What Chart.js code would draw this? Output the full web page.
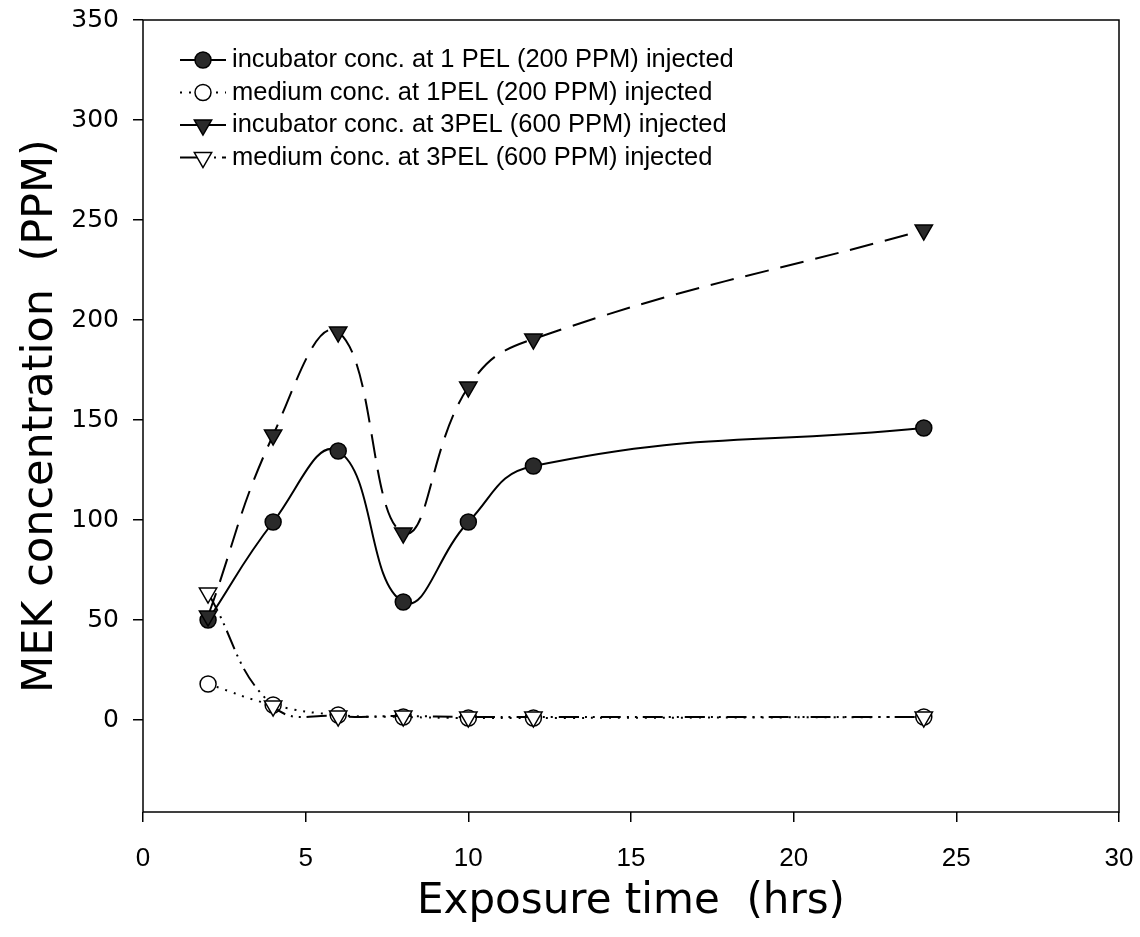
<!DOCTYPE html>
<html>
<head>
<meta charset="utf-8">
<script src="https://cdn.jsdelivr.net/npm/chart.js@4"></script>
<style>
  html, body { margin: 0; padding: 0; background: #fff; }
  #chart { display: block; }
</style>
</head>
<body>
<canvas id="chart" width="1140" height="937"></canvas>
<script>
// data
const hours = [2, 4, 6, 8, 10, 12, 24];
const incubator1PEL = [50, 99, 134.5, 59, 99, 127, 146];
const medium1PEL = [18, 7.5, 2.5, 1.5, 1, 1, 1.5];
const incubator3PEL = [52, 142.5, 194, 93.5, 166.5, 190.5, 245];
const medium3PEL = [63.5, 7, 2, 2, 1.5, 1.5, 1.5];

const seriesNames = [
  'incubator conc. at 1 PEL (200 PPM) injected',
  'medium conc. at 1PEL (200 PPM) injected',
  'incubator conc. at 3PEL (600 PPM) injected',
  'medium \u010Bonc. at 3PEL (600 PPM) injected'
];
const xTicks = [0, 5, 10, 15, 20, 25, 30];
const yTicks = [0, 50, 100, 150, 200, 250, 300, 350];

const toPoints = (ys) => hours.map((h, i) => ({ x: h, y: ys[i] }));

function makeSet(label, ys, opts) {
  return Object.assign({
    label: label,
    data: toPoints(ys),
    borderColor: '#000',
    borderWidth: 2,
    pointBorderColor: '#000',
    pointBorderWidth: 1.5,
    tension: 0.45,
    fill: false
  }, opts);
}

const datasets = [
  makeSet(seriesNames[0], incubator1PEL, {
    pointStyle: 'circle', pointRadius: 8, pointBackgroundColor: '#2a2a2a', borderDash: [], order: 2
  }),
  makeSet(seriesNames[1], medium1PEL, {
    pointStyle: 'circle', pointRadius: 8, pointBackgroundColor: '#fff', borderDash: [2, 7], order: 4
  }),
  makeSet(seriesNames[2], incubator3PEL, {
    pointStyle: 'triangle', pointRotation: 180, pointRadius: 10, pointBackgroundColor: '#2a2a2a',
    borderDash: [24, 12], order: 1
  }),
  makeSet(seriesNames[3], medium3PEL, {
    pointStyle: 'triangle', pointRotation: 180, pointRadius: 10, pointBackgroundColor: '#fff',
    borderDash: [20, 6, 2, 6, 2, 6], order: 3
  })
];

// box round the plot + legend with line and marker inside the plot
const framePlugin = {
  id: 'frame',
  afterDraw(chart) {
    const ctx = chart.ctx;
    const a = chart.chartArea;
    ctx.save();
    ctx.strokeStyle = '#000';
    ctx.lineWidth = 1.5;
    ctx.setLineDash([]);
    ctx.strokeRect(a.left, a.top, a.right - a.left, a.bottom - a.top);

    ctx.font = '25.5px "Liberation Sans", Arial, sans-serif';
    ctx.textBaseline = 'middle';
    ctx.textAlign = 'left';
    chart.data.datasets.forEach((ds, i) => {
      const y = 60 + i * 32.5;
      const x0 = 180, x1 = 226, xm = 203;
      ctx.strokeStyle = '#000';
      ctx.lineWidth = 2;
      ctx.setLineDash(i === 2 ? [] : ds.borderDash);
      ctx.beginPath();
      ctx.moveTo(x0, y);
      ctx.lineTo(x1, y);
      ctx.stroke();
      ctx.setLineDash([]);
      ctx.fillStyle = ds.pointBackgroundColor;
      ctx.lineWidth = 1.5;
      Chart.helpers.drawPoint(ctx, {
        pointStyle: ds.pointStyle,
        rotation: ds.pointRotation || 0,
        radius: ds.pointRadius,
        borderWidth: 1.5
      }, xm, y);
      ctx.fillStyle = '#000';
      ctx.fillText(ds.label, 232, y);
    });
    ctx.restore();
  }
};

new Chart(document.getElementById('chart'), {
  type: 'line',
  data: { datasets: datasets },
  options: {
    responsive: false,
    animation: false,
    devicePixelRatio: 1,
    layout: { padding: { top: 20, right: 21, left: 0, bottom: 0 } },
    plugins: {
      legend: { display: false },
      tooltip: { enabled: false }
    },
    scales: {
      x: {
        type: 'linear',
        min: 0,
        max: 30,
        afterBuildTicks: (s) => { s.ticks = xTicks.map(v => ({ value: v })); },
        afterFit: (s) => { s.height = 125; s.paddingLeft = 0; s.paddingRight = 0; },
        grid: { drawOnChartArea: false, drawTicks: true, tickLength: 10, color: '#000', lineWidth: 1.5 },
        border: { display: false },
        ticks: {
          color: '#000',
          padding: 21,
          maxRotation: 0,
          font: { family: '"Liberation Sans", Arial, sans-serif', size: 26 }
        },
        title: {
          display: true,
          text: 'Exposure time  (hrs)',
          color: '#000',
          font: { family: '"DejaVu Sans", sans-serif', size: 42, lineHeight: 1.2 },
          padding: { top: 0, bottom: 10 }
        }
      },
      y: {
        type: 'linear',
        min: -46,
        max: 350,
        afterBuildTicks: (s) => { s.ticks = yTicks.map(v => ({ value: v })); },
        afterFit: (s) => { s.width = 143; s.paddingTop = 0; s.paddingBottom = 0; },
        grid: { drawOnChartArea: false, drawTicks: true, tickLength: 10, color: '#000', lineWidth: 1.5 },
        border: { display: false },
        ticks: {
          color: '#000',
          padding: 14,
          font: { family: '"DejaVu Sans", sans-serif', size: 25 }
        },
        title: {
          display: true,
          text: 'MEK concentration  (PPM)',
          color: '#000',
          font: { family: '"DejaVu Sans", sans-serif', size: 43, lineHeight: 1.2 },
          padding: { top: 15, bottom: 0 }
        }
      }
    }
  },
  plugins: [framePlugin]
});
</script>
</body>
</html>
